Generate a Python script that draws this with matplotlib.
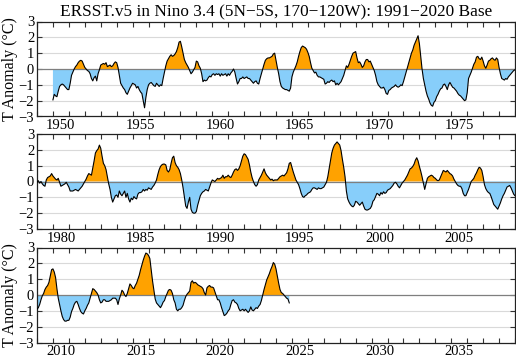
import numpy as np
import matplotlib
matplotlib.use("Agg")
import matplotlib.pyplot as plt

# ---------------- text ----------------
title = "ERSST.v5 in Nino 3.4 (5N\u22125S, 170\u2212120W): 1991\u22122020 Base"
ylabel = "T Anomaly (\u00b0C)"

# ---------------- layout of panels (x ranges) ----------------
panel_starts = [1949, 1979, 2009]
panel_span = 30
label_years = [
    [1950, 1955, 1960, 1965, 1970, 1975],
    [1980, 1985, 1990, 1995, 2000, 2005],
    [2010, 2015, 2020, 2025, 2030, 2035],
]
y_ticks = [-3, -2, -1, 0, 1, 2, 3]

# ---------------- monthly anomalies (deg C) ----------------
start_1 = 1950
anom_1950_1978 = [
    -1.95, -1.6, -1.7, -1.75, -1.4, -1.1, -1.0, -0.95, -1.0, -1.1, -1.2, -1.3,   # 1950
    -1.3, -0.9, -0.4, -0.2, 0.0, 0.15, 0.25, 0.4, 0.5, 0.55, 0.5, 0.3,           # 1951
    0.1, 0.0, -0.1, -0.15, -0.3, -0.6, -0.75, -0.55, -0.45, -0.75, -0.3, -0.05,  # 1952
    0.25, 0.3, 0.35, 0.3, 0.4, 0.15, 0.2, 0.25, 0.15, 0.2, 0.35, 0.45,           # 1953
    0.4, 0.1, -0.4, -0.9, -1.05, -1.2, -1.3, -1.5, -1.6, -1.4, -1.2, -1.05,      # 1954
    -0.9, -0.95, -1.0, -1.2, -1.1, -1.3, -1.45, -1.55, -2.0, -2.45, -1.8, -1.3,  # 1955
    -1.0, -0.9, -0.85, -0.95, -1.05, -1.1, -0.9, -1.0, -1.1, -1.0, -1.05, -0.6,  # 1956
    -0.2, 0.2, 0.5, 0.65, 0.8, 0.9, 0.8, 0.85, 0.95, 1.1, 1.35, 1.7,             # 1957
    1.75, 1.4, 1.0, 0.6, 0.4, 0.25, 0.1, -0.1, -0.3, -0.2, -0.05, 0.1,           # 1958
    0.5, 0.45, 0.2, 0.05, -0.3, -0.8, -0.7, -0.75, -0.7, -0.55, -0.45, -0.5,     # 1959
    -0.35, -0.3, -0.4, -0.3, -0.35, -0.3, -0.45, -0.3, -0.4, -0.35, -0.3, -0.45, # 1960
    -0.3, -0.4, -0.25, -0.15, 0.0, -0.2, -0.6, -0.95, -0.8, -0.6, -0.6, -0.5,    # 1961
    -0.6, -0.55, -0.5, -0.6, -0.6, -0.7, -0.8, -0.9, -0.8, -0.75, -0.9, -0.95,   # 1962
    -0.6, -0.3, 0.0, 0.3, 0.55, 0.65, 0.7, 0.7, 0.75, 0.8, 0.95, 1.0,            # 1963
    0.55, 0.1, -0.3, -0.8, -1.1, -1.2, -1.25, -1.3, -1.3, -1.35, -1.4, -1.2,     # 1964
    -0.5, -0.2, 0.0, 0.2, 0.45, 0.8, 1.1, 1.35, 1.45, 1.4, 1.35, 1.25,           # 1965
    1.05, 0.8, 0.4, 0.05, -0.1, -0.25, -0.2, -0.4, -0.5, -0.5, -0.55, -0.6,      # 1966
    -0.65, -0.95, -0.9, -0.8, -0.85, -0.75, -0.7, -0.8, -0.75, -1.0, -0.9, -1.0, # 1967
    -0.9, -0.8, -0.6, -0.4, -0.1, 0.2, 0.1, 0.3, 0.55, 0.8, 1.0, 1.05,           # 1968
    1.1, 0.7, 0.4, 0.45, 0.3, 0.1, 0.2, 0.45, 0.6, 0.6, 0.45, 0.5,               # 1969
    0.3, 0.1, -0.1, -0.4, -0.8, -1.0, -1.1, -1.2, -1.2, -1.15, -1.3, -1.55,      # 1970
    -1.6, -1.35, -1.3, -1.2, -1.15, -1.1, -1.0, -1.1, -1.15, -1.1, -1.0, -1.05,  # 1971
    -0.8, -0.5, -0.2, 0.1, 0.4, 0.7, 1.0, 1.2, 1.5, 1.7, 1.9, 2.1,               # 1972
    1.6, 0.8, 0.0, -0.6, -1.0, -1.4, -1.7, -1.9, -2.15, -2.3, -2.35, -2.1,       # 1973
    -2.0, -1.75, -1.6, -1.4, -1.25, -1.2, -1.0, -0.95, -1.1, -1.3, -1.0, -0.85,  # 1974
    -1.0, -1.15, -1.2, -1.3, -1.4, -1.55, -1.65, -1.7, -1.8, -1.9, -2.0, -1.95,  # 1975
    -1.5, -0.6, -0.4, -0.2, 0.05, 0.3, 0.45, 0.75, 0.8, 0.65, 0.6, 0.75,         # 1976
    0.5, 0.2, 0.05, 0.25, 0.5, 0.55, 0.65, 0.7, 0.6, 0.55, 0.7, 0.6,             # 1977
    0.1, -0.3, -0.6, -0.65, -0.7, -0.6, -0.65, -0.5, -0.4, -0.3, -0.2, -0.1,     # 1978
]

start_2 = 1979
anom_1979_2008 = [
    -0.05, 0.05, -0.1, 0.0, -0.15, -0.25, -0.3, 0.1, 0.25, 0.3, 0.35, 0.5,       # 1979
    0.35, 0.25, 0.15, 0.1, 0.2, -0.05, -0.3, -0.25, -0.2, -0.15, -0.05, -0.2,    # 1980
    -0.35, -0.6, -0.6, -0.6, -0.55, -0.5, -0.55, -0.6, -0.5, -0.4, -0.3, -0.15,  # 1981
    0.0, 0.15, 0.35, 0.5, 0.45, 0.4, 0.85, 1.3, 1.8, 1.95, 2.05, 2.3,            # 1982
    2.1, 1.6, 1.15, 1.0, 0.75, 0.3, -0.15, -0.5, -1.0, -1.3, -1.1, -0.9,         # 1983
    -0.85, -1.0, -0.6, -0.8, -0.9, -0.75, -0.6, -1.0, -0.75, -1.1, -1.3, -1.05,  # 1984
    -1.15, -0.95, -1.05, -1.1, -0.8, -0.7, -0.7, -0.65, -0.5, -0.6, -0.5, -0.55, # 1985
    -0.4, -0.45, -0.5, -0.35, -0.25, -0.1, 0.1, 0.45, 0.75, 0.95, 1.05, 1.1,     # 1986
    1.1, 1.05, 0.7, 0.6, 0.75, 1.15, 1.5, 1.6, 1.2, 1.0, 0.9, 0.75,             # 1987
    0.5, 0.1, -0.4, -1.0, -1.55, -1.7, -1.3, -1.0, -1.75, -1.95, -2.0, -2.0,     # 1988
    -1.9, -1.5, -1.2, -0.9, -0.75, -0.65, -0.6, -0.5, -0.55, -0.6, -0.35, -0.1,  # 1989
    0.1, 0.05, 0.0, 0.1, 0.2, 0.15, 0.2, 0.25, 0.4, 0.2, 0.3, 0.3,               # 1990
    0.4, 0.3, 0.25, 0.4, 0.6, 0.75, 0.8, 0.7, 0.8, 1.0, 1.3, 1.6,               # 1991
    1.75, 1.7, 1.55, 1.4, 1.05, 0.6, 0.25, 0.0, -0.2, -0.3, -0.2, 0.1,           # 1992
    0.25, 0.4, 0.6, 0.8, 0.55, 0.4, 0.3, 0.2, 0.1, 0.15, 0.05, 0.1,              # 1993
    0.1, 0.1, 0.2, 0.3, 0.35, 0.4, 0.35, 0.45, 0.55, 0.8, 1.15, 1.2,             # 1994
    0.9, 0.6, 0.35, 0.1, -0.05, -0.2, -0.45, -0.75, -0.95, -1.0, -0.9, -0.85,    # 1995
    -0.75, -0.7, -0.65, -0.5, -0.4, -0.4, -0.45, -0.5, -0.4, -0.45, -0.45, -0.4, # 1996
    -0.35, -0.2, -0.05, 0.3, 0.8, 1.3, 1.8, 2.1, 2.3, 2.4, 2.5, 2.4,             # 1997
    2.3, 1.95, 1.4, 0.9, 0.3, -0.6, -1.1, -1.3, -1.45, -1.55, -1.6, -1.5,        # 1998
    -1.25, -1.3, -1.4, -1.5, -1.4, -1.3, -1.55, -1.75, -1.8, -1.8, -1.75, -1.7,  # 1999
    -1.55, -1.25, -1.15, -0.95, -0.75, -0.8, -0.9, -0.7, -0.8, -0.65, -0.75, -0.7,  # 2000
    -0.55, -0.5, -0.45, -0.35, -0.25, -0.1, -0.05, -0.15, -0.3, -0.4, -0.25, -0.1,  # 2001
    0.0, 0.1, 0.25, 0.4, 0.6, 0.8, 0.85, 0.95, 1.1, 1.35, 1.5, 1.3,              # 2002
    0.95, 0.65, 0.3, -0.1, -0.5, -0.15, 0.2, 0.3, 0.35, 0.4, 0.35, 0.25,         # 2003
    0.2, 0.1, 0.05, 0.1, 0.3, 0.5, 0.7, 0.65, 0.6, 0.7, 0.6, 0.5,                # 2004
    0.45, 0.35, 0.15, 0.0, -0.15, -0.25, -0.3, -0.3, -0.45, -0.75, -0.9, -0.9,   # 2005
    -0.7, -0.5, -0.25, 0.0, 0.1, 0.2, 0.4, 0.55, 0.75, 0.9, 0.85, 0.7,           # 2006
    0.3, -0.2, -0.45, -0.6, -0.7, -0.75, -0.95, -1.2, -1.45, -1.55, -1.65, -1.75,  # 2007
    -1.55, -1.35, -1.1, -0.9, -0.75, -0.55, -0.35, -0.3, -0.25, -0.4, -0.6, -0.8,  # 2008
]

start_3 = 2009
anom_2009_2024 = [
    -0.9, -0.8, -0.6, -0.3, -0.05, 0.1, 0.35, 0.5, 0.6, 0.8, 1.2, 1.6,          # 2009
    1.65, 1.45, 1.1, 0.4, -0.2, -0.6, -1.0, -1.35, -1.55, -1.65, -1.65, -1.6,    # 2010
    -1.6, -1.4, -1.05, -0.85, -0.6, -0.45, -0.4, -0.6, -0.85, -1.05, -1.15, -1.2,  # 2011
    -1.0, -0.85, -0.65, -0.5, -0.2, 0.1, 0.4, 0.35, 0.25, 0.15, 0.0, -0.3,       # 2012
    -0.5, -0.45, -0.3, -0.3, -0.4, -0.4, -0.4, -0.35, -0.3, -0.2, -0.2, -0.2,    # 2013
    -0.3, -0.6, -0.25, 0.0, 0.3, 0.2, 0.0, -0.1, 0.1, 0.4, 0.7, 0.6,             # 2014
    0.45, 0.4, 0.6, 0.75, 1.0, 1.25, 1.6, 1.9, 2.2, 2.45, 2.65, 2.6,             # 2015
    2.5, 2.3, 1.6, 0.9, 0.3, -0.25, -0.5, -0.6, -0.7, -0.8, -0.65, -0.45,        # 2016
    -0.35, -0.1, 0.1, 0.3, 0.35, 0.3, 0.1, -0.3, -0.5, -0.9, -1.0, -0.9,         # 2017
    -0.9, -0.8, -0.65, -0.35, -0.1, 0.05, 0.15, 0.25, 0.8, 0.9, 0.75, 0.8,       # 2018
    0.75, 0.65, 0.6, 0.55, 0.5, 0.4, 0.15, 0.0, 0.45, 0.55, 0.6, 0.5,            # 2019
    0.5, 0.45, 0.2, -0.05, -0.3, -0.3, -0.5, -0.8, -1.05, -1.3, -1.25, -1.15,    # 2020
    -1.0, -0.9, -0.6, -0.35, -0.3, -0.45, -0.5, -0.6, -0.85, -1.0, -0.95, -0.9,  # 2021
    -1.0, -0.9, -1.0, -1.1, -1.0, -0.75, -0.95, -1.0, -0.9, -0.8, -0.85, -0.7,   # 2022
    -0.6, -0.35, 0.0, 0.35, 0.65, 0.95, 1.15, 1.35, 1.6, 1.8, 2.05, 1.95,        # 2023
    1.65, 1.2, 0.75, 0.35, 0.15, 0.1, 0.0, -0.1, -0.2, -0.25, -0.5,             # 2024 (Jan-Nov)
]

# ---------------- styling ----------------
pos_color = "#FFA200"
neg_color = "#87CEFA"
plt.rcParams["font.family"] = ["Liberation Serif", "DejaVu Serif"]
plt.rcParams["axes.unicode_minus"] = True


def series(start, vals):
    v = np.asarray(vals, dtype=float)
    t = start + np.arange(v.size) / 12.0
    return t, v


parts = [series(start_1, anom_1950_1978),
         series(start_2, anom_1979_2008),
         series(start_3, anom_2009_2024)]
t_all = np.concatenate([p[0] for p in parts])
v_all = np.concatenate([p[1] for p in parts])

W, H = 516, 357
fig = plt.figure(figsize=(W / 100, H / 100), dpi=100)

left = 37 / W
width = 478 / W
panel_tops = [21.5, 134.0, 247.5]
panel_h = 95.0

axes = []
for i, x0 in enumerate(panel_starts):
    top = panel_tops[i]
    ax = fig.add_axes([left, 1 - (top + panel_h) / H, width, panel_h / H])
    axes.append(ax)
    # grid lines
    for yv in y_ticks:
        if yv != 0 and abs(yv) < 3:
            ax.axhline(yv, color="#d9d9d9", lw=0.8, zorder=0)
    ax.fill_between(t_all, v_all, 0, where=v_all >= 0, interpolate=True,
                    color=pos_color, lw=0, zorder=1)
    ax.fill_between(t_all, v_all, 0, where=v_all <= 0, interpolate=True,
                    color=neg_color, lw=0, zorder=1)
    ax.axhline(0, color="#7f7f7f", lw=0.9, zorder=2)
    ax.plot(t_all, v_all, color="black", lw=0.8, zorder=3)

    ax.set_xlim(x0, x0 + panel_span)
    ax.set_ylim(-3, 3)
    ax.set_yticks(y_ticks)
    ax.set_yticklabels([f"{v:d}".replace("-", "\u2212") for v in y_ticks])
    ax.set_xticks(np.arange(x0, x0 + panel_span + 1))
    ax.set_xticklabels([])
    ax.set_xticks([y + 0.5 for y in label_years[i]], minor=True)
    ax.set_xticklabels([str(y) for y in label_years[i]], minor=True)
    ax.tick_params(axis="x", which="major", direction="in", length=3.5,
                   width=0.8, top=True, bottom=True, color="#333333")
    ax.tick_params(axis="x", which="minor", length=0, labelsize=10.5, pad=2)
    ax.tick_params(axis="y", which="major", direction="in", length=3.5,
                   width=0.8, left=True, right=True, labelsize=10.5, pad=2,
                   color="#333333")
    for s in ax.spines.values():
        s.set_linewidth(0.9)
        s.set_color("#222222")

axes[0].set_title(title, fontsize=12.4, pad=4)

fig.text(10 / W, 1 - (panel_tops[0] + panel_h / 2) / H, ylabel,
         rotation=90, ha="center", va="center", fontsize=11.5)
fig.text(10 / W, 1 - (panel_tops[2] + panel_h / 2) / H, ylabel,
         rotation=90, ha="center", va="center", fontsize=11.5)

fig.savefig("out.png", dpi=100)
